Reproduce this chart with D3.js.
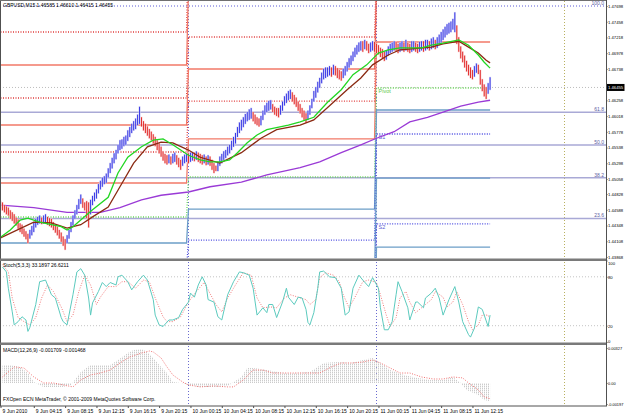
<!DOCTYPE html>
<html>
<head>
<meta charset="utf-8">
<script src="https://cdn.jsdelivr.net/npm/d3@7"></script>
<style>
body { margin: 0; background: #fff; }
svg { display: block; font-family: "Liberation Sans", Arial, sans-serif; }
</style>
</head>
<body>
<script>

/*--------- Données ---------------------------------------*/

const chartTitle = "GBPUSD,M15 1.46585 1.46610 1.46415 1.46455";
const stochTitle = "Stoch(5,3,3) 33.1897 26.6211";
const macdTitle = "MACD(12,26,9) -0.001709 -0.001468";
const copyright = "FXOpen ECN MetaTrader, \u00a9 2001-2009 MetaQuotes Software Corp.";
const lastPrice = 1.46455;

// une barre M15 par valeur, du 9 Jun 00:00 au 11 Jun 14:30
const barHigh = [
  1.4472,1.4470,1.4466,1.4464,1.4462,1.4458,1.4455,1.4452,1.4447,1.4444,
  1.4438,1.4436,1.4430,1.4426,1.4422,1.4428,1.4434,1.4440,1.4445,1.4448,
  1.4450,1.4447,1.4450,1.4452,1.4448,1.4446,1.4445,1.4440,1.4436,1.4433,
  1.4428,1.4424,1.4418,1.4414,1.4420,1.4428,1.4440,1.4450,1.4458,1.4466,
  1.4475,1.4482,1.4476,1.4470,1.4472,1.4470,1.4474,1.4480,1.4485,1.4490,
  1.4498,1.4503,1.4508,1.4510,1.4514,1.4522,1.4530,1.4538,1.4545,1.4550,
  1.4558,1.4565,1.4566,1.4570,1.4572,1.4580,1.4585,1.4590,1.4594,1.4598,
  1.4604,1.4616,1.4600,1.4594,1.4590,1.4586,1.4582,1.4578,1.4574,1.4570,
  1.4565,1.4560,1.4555,1.4548,1.4544,1.4542,1.4543,1.4540,1.4544,1.4546,
  1.4542,1.4538,1.4535,1.4540,1.4543,1.4544,1.4545,1.4546,1.4547,1.4546,
  1.4548,1.4546,1.4544,1.4542,1.4543,1.4540,1.4542,1.4540,1.4535,1.4530,
  1.4526,1.4532,1.4540,1.4544,1.4548,1.4550,1.4555,1.4558,1.4564,1.4570,
  1.4576,1.4585,1.4592,1.4596,1.4600,1.4605,1.4608,1.4612,1.4614,1.4608,
  1.4604,1.4600,1.4598,1.4602,1.4610,1.4618,1.4622,1.4625,1.4626,1.4620,
  1.4616,1.4614,1.4614,1.4618,1.4624,1.4632,1.4636,1.4640,1.4642,1.4638,
  1.4634,1.4630,1.4624,1.4620,1.4614,1.4610,1.4606,1.4610,1.4618,1.4628,
  1.4640,1.4646,1.4654,1.4660,1.4668,1.4674,1.4676,1.4676,1.4678,1.4676,
  1.4680,1.4678,1.4675,1.4672,1.4670,1.4674,1.4678,1.4684,1.4690,1.4694,
  1.4700,1.4706,1.4710,1.4714,1.4716,1.4716,1.4718,1.4716,1.4712,1.4714,
  1.4716,1.4715,1.4712,1.4710,1.4706,1.4704,1.4700,1.4702,1.4708,1.4712,
  1.4714,1.4716,1.4715,1.4712,1.4714,1.4716,1.4714,1.4718,1.4714,1.4712,
  1.4716,1.4716,1.4714,1.4712,1.4715,1.4716,1.4716,1.4718,1.4718,1.4716,
  1.4720,1.4722,1.4718,1.4722,1.4726,1.4730,1.4734,1.4738,1.4742,1.4744,
  1.4746,1.4750,1.4760,1.4740,1.4722,1.4708,1.4700,1.4694,1.4686,1.4680,
  1.4676,1.4672,1.4678,1.4682,1.4680,1.4672,1.4658,1.4650,1.4646,1.4652,1.4661
];
const barLow = [
  1.4460,1.4458,1.4455,1.4452,1.4450,1.4445,1.4442,1.4438,1.4435,1.4430,
  1.4425,1.4422,1.4418,1.4414,1.4408,1.4415,1.4420,1.4425,1.4432,1.4436,
  1.4438,1.4437,1.4438,1.4440,1.4436,1.4434,1.4432,1.4428,1.4424,1.4420,
  1.4415,1.4410,1.4404,1.4398,1.4408,1.4415,1.4425,1.4435,1.4445,1.4452,
  1.4460,1.4468,1.4462,1.4458,1.4446,1.4432,1.4452,1.4466,1.4472,1.4476,
  1.4484,1.4490,1.4494,1.4498,1.4500,1.4508,1.4515,1.4522,1.4530,1.4536,
  1.4545,1.4550,1.4552,1.4556,1.4558,1.4564,1.4570,1.4576,1.4580,1.4582,
  1.4588,1.4590,1.4586,1.4580,1.4576,1.4572,1.4568,1.4565,1.4560,1.4556,
  1.4550,1.4545,1.4540,1.4534,1.4530,1.4528,1.4530,1.4528,1.4530,1.4532,
  1.4528,1.4524,1.4520,1.4526,1.4530,1.4532,1.4530,1.4532,1.4534,1.4533,
  1.4535,1.4532,1.4530,1.4528,1.4530,1.4527,1.4528,1.4526,1.4520,1.4515,
  1.4518,1.4518,1.4526,1.4530,1.4535,1.4538,1.4542,1.4545,1.4550,1.4555,
  1.4560,1.4570,1.4576,1.4580,1.4585,1.4590,1.4594,1.4596,1.4598,1.4594,
  1.4590,1.4588,1.4586,1.4588,1.4596,1.4604,1.4608,1.4610,1.4612,1.4608,
  1.4604,1.4602,1.4600,1.4604,1.4610,1.4618,1.4622,1.4626,1.4628,1.4624,
  1.4620,1.4616,1.4610,1.4606,1.4600,1.4596,1.4592,1.4596,1.4604,1.4614,
  1.4624,1.4630,1.4638,1.4645,1.4652,1.4658,1.4660,1.4662,1.4664,1.4662,
  1.4665,1.4664,1.4660,1.4658,1.4656,1.4660,1.4664,1.4670,1.4676,1.4680,
  1.4686,1.4692,1.4696,1.4700,1.4702,1.4700,1.4704,1.4702,1.4698,1.4700,
  1.4702,1.4700,1.4698,1.4696,1.4692,1.4690,1.4686,1.4688,1.4694,1.4698,
  1.4700,1.4702,1.4700,1.4698,1.4700,1.4702,1.4700,1.4702,1.4700,1.4698,
  1.4700,1.4702,1.4700,1.4698,1.4700,1.4702,1.4700,1.4702,1.4704,1.4702,
  1.4704,1.4706,1.4704,1.4706,1.4710,1.4714,1.4718,1.4722,1.4726,1.4728,
  1.4730,1.4734,1.4730,1.4712,1.4700,1.4690,1.4684,1.4676,1.4670,1.4664,
  1.4660,1.4658,1.4662,1.4668,1.4666,1.4650,1.4640,1.4632,1.4628,1.4636,1.4642
];

// moyennes mobiles (barre, prix)
const maFastBars = [0,5,10,14,20,31,34,37,42,47,55,60,65,72,78,83,88,96,102,107,112,117,121,126,131,136,147,153,160,167,174,180,187,193,198,204,215,220,226,234,239,244,247,250];
const maFast = [1.4417,1.4428,1.4443,1.4446,1.4440,1.4433,1.4428,1.4433,1.4446,1.4459,1.4478,1.4515,1.4539,1.4555,1.4565,1.4567,1.4558,1.4542,1.4535,1.4532,1.4532,1.4535,1.4546,1.4561,1.4573,1.4581,1.4588,1.4593,1.4600,1.4623,1.4642,1.4665,1.4680,1.4698,1.4703,1.4706,1.4706,1.4710,1.4713,1.4718,1.4710,1.4695,1.4684,1.4675];
const maSlowBars = [0,17,26,34,41,47,55,61,68,75,82,88,96,102,112,123,133,141,153,160,170,177,184,190,198,204,220,226,234,239,244,248,250];
const maSlow = [1.4416,1.4440,1.4439,1.4431,1.4436,1.4448,1.4463,1.4494,1.4530,1.4555,1.4562,1.4561,1.4550,1.4539,1.4530,1.4546,1.4568,1.4581,1.4588,1.4596,1.4623,1.4642,1.4660,1.4680,1.4695,1.4703,1.4707,1.4712,1.4716,1.4707,1.4698,1.4687,1.4683];
const maLongBars = [0,17,34,51,61,72,82,96,107,123,136,153,163,174,184,192,201,209,218,226,235,244,250];
const maLong = [1.4466,1.4462,1.4455,1.4455,1.4462,1.4474,1.4481,1.4486,1.4494,1.4501,1.4512,1.4523,1.4532,1.4546,1.4558,1.4568,1.4578,1.4593,1.4600,1.4608,1.4617,1.4623,1.4626];

// pivots journaliers : R3, M5, R2, M4, R1, M3, P, M2, S1, M1, S2, M0, S3
const pivotNames = ["R3","M5","R2","M4","R1","M3","P","M2","S1","M1","S2","M0","S3"];
const pivotJun9 = [1.47301,1.46798,1.46294,1.45882,1.45470,1.44997,1.44478,1.44082,1.43685,1.43288,1.42891,1.42602,1.42296];
const pivotJun10 = [1.48705,1.47973,1.47225,1.46737,1.46248,1.45669,1.45089,1.44600,1.44127,1.43593,1.43061,1.42602,1.42144];
const pivotJun11 = [1.48705,1.48400,1.48247,1.48049,1.47851,1.47149,1.46447,1.46111,1.45745,1.45073,1.44372,1.44020,1.43670];
const dayFirstBar = [0, 96, 192];
const dayLastBar = [95, 191, 250];
const daySeparators = [96, 192, 288];

// retracement de Fibonacci
const fibHigh = 1.47698;
const fibLow = 1.43456;
const fibLevels = [100.0, 61.8, 50.0, 38.2, 23.6];

// stochastique (barre, valeur)
const stochMainBars = [1,3,4,6,7,9,11,13,14,15,18,20,23,26,28,31,32,34,37,39,41,43,45,46,47,50,52,54,56,59,60,62,65,67,70,73,75,78,79,81,83,86,88,91,93,96,97,99,101,103,105,106,109,111,113,116,119,122,124,127,129,131,134,136,137,139,141,144,146,147,150,152,154,156,157,158,160,162,163,165,168,171,174,176,178,180,183,185,188,190,193,194,196,198,200,202,203,205,208,209,212,213,216,217,220,222,224,226,229,232,234,236,239,240,242,244,246,249,250];
const stochMain = [92,86,66,37,21,25,31,27,13,18,46,74,76,58,54,30,25,21,58,86,90,82,54,33,48,62,73,68,73,70,80,82,74,64,74,82,76,52,33,21,19,27,27,30,40,49,60,55,70,80,70,52,49,31,27,58,74,86,85,82,66,33,42,36,46,46,30,49,66,55,46,55,54,40,24,21,36,66,86,87,80,79,66,33,37,66,82,76,68,79,66,42,15,15,25,58,74,62,42,27,49,49,42,54,60,66,54,33,52,68,49,25,9,6,17,43,40,19,33];
const stochSignalBars = [1,4,6,9,12,15,18,21,24,27,31,34,37,40,43,46,49,51,55,59,62,65,69,73,76,79,83,85,88,92,96,100,104,106,110,113,116,120,124,128,131,134,138,141,145,148,152,156,158,161,163,166,170,173,175,178,181,185,188,192,194,197,199,202,204,207,209,212,215,217,220,222,226,228,231,233,236,239,241,244,246,249,250];
const stochSignal = [95,86,54,30,25,21,30,54,70,62,43,25,33,62,82,70,46,55,68,68,74,74,66,76,74,54,31,25,25,31,49,62,73,64,46,37,54,70,85,82,54,42,43,42,54,58,55,52,46,52,79,85,82,74,58,42,55,74,76,73,58,33,19,30,54,62,49,36,42,46,52,62,55,43,49,62,46,25,15,21,33,33,27];

// MACD (barre, valeur)
const macdHistBars = [1,5,10,14,17,22,27,32,36,41,46,51,56,60,65,68,72,75,78,82,85,88,92,96,102,109,116,123,126,129,136,145,150,158,165,172,179,185,190,194,199,206,213,220,226,231,235,238,244,247,250];
const macdHist = [0.00168,0.00168,0.00150,0.00093,0.00009,-0.00037,-0.00037,-0.00037,-0.00019,0.00103,0.00168,0.00168,0.00168,0.00215,0.00280,0.00308,0.00318,0.00290,0.00234,0.00150,0.00093,0.00009,0.00000,-0.00019,-0.00037,-0.00037,-0.00028,0.00056,0.00140,0.00140,0.00120,0.00093,0.00093,0.00103,0.00187,0.00196,0.00187,0.00215,0.00234,0.00187,0.00120,0.00075,0.00047,0.00028,0.00028,0.00056,0.00000,-0.00065,-0.00112,-0.00159,-0.00171];
const macdSignalBars = [1,7,12,17,22,27,32,37,41,46,51,56,61,66,72,76,78,82,85,88,93,96,102,109,116,119,124,129,134,139,145,150,158,163,169,174,180,185,190,194,199,204,209,215,221,226,231,236,239,244,247,250];
const macdSignal = [0.00056,0.00150,0.00140,0.00056,0.00000,0.00000,-0.00019,-0.00037,0.00028,0.00075,0.00093,0.00121,0.00187,0.00243,0.00280,0.00299,0.00290,0.00234,0.00150,0.00075,0.00009,-0.00019,-0.00037,-0.00028,-0.00037,-0.00037,0.00028,0.00121,0.00121,0.00093,0.00093,0.00093,0.00093,0.00093,0.00150,0.00187,0.00187,0.00196,0.00215,0.00187,0.00140,0.00093,0.00093,0.00056,0.00037,0.00037,0.00056,0.00047,0.00000,-0.00065,-0.00131,-0.00147];

// graduations
const priceTicks = ["1.47698","1.47458","1.47218","1.46978","1.46738","1.46498","1.46258","1.46018","1.45778","1.45538","1.45298","1.45058","1.44828","1.44588","1.44348","1.44108","1.43868"];
const stochTicks = [100, 80, 20, 0];
const macdTicks = ["0.00327", "0.00", "-0.00197"];
const timeBars = [0,17,33,49,65,81,97,113,129,145,161,177,193,209,225,241];
const timeLabels = ["9 Jun 2010","9 Jun 04:15","9 Jun 08:15","9 Jun 12:15","9 Jun 16:15","9 Jun 20:15","10 Jun 00:15","10 Jun 04:15","10 Jun 08:15","10 Jun 12:15","10 Jun 16:15","10 Jun 20:15","11 Jun 00:15","11 Jun 04:15","11 Jun 08:15","11 Jun 12:15"];

/*----------------- Affichage ---------------------------- */

var width = 625;
var height = 416;
var plotRight = 606;

var svg = d3.select("body")
    .append("svg")
    .attr("width", width)
    .attr("height", height);

var x = d3.scaleLinear().domain([0, 192]).range([0.5, 376.5]);
var y = d3.scaleLinear().domain([1.43868, 1.47698]).range([257, 6]);
var yStoch = d3.scaleLinear().domain([0, 100]).range([342, 260.5]);
var yMacd = d3.scaleLinear().domain([-0.00197, 0.00327]).range([404, 348]);

var defs = svg.append("defs");
function clip(id, y0, y1) {
    defs.append("clipPath").attr("id", id)
        .append("rect").attr("x", 0).attr("y", y0).attr("width", plotRight).attr("height", y1 - y0);
}
clip("clipMain", 1, 258);
clip("clipStoch", 261, 342.5);
clip("clipMacd", 345, 405.5);

// motif de l'histogramme MACD
defs.append("pattern").attr("id", "hatch")
    .attr("patternUnits", "userSpaceOnUse")
    .attr("width", 2).attr("height", 2)
    .append("rect").attr("width", 1).attr("height", 1.4).attr("fill", "#cbcbcb");

// séparateurs de jours (traversent les trois fenêtres)
svg.append("g").selectAll("line")
    .data(daySeparators)
    .enter().append("line")
    .attr("x1", d => x(d)).attr("x2", d => x(d))
    .attr("y1", 1).attr("y2", 405.5)
    .attr("stroke", (d, i) => i == 2 ? "#b8b060" : "#6a6ad0")
    .attr("stroke-width", 1)
    .attr("stroke-dasharray", "1,2");

/*------ fenêtre principale ------*/
var main = svg.append("g").attr("clip-path", "url(#clipMain)");

// dernier prix
main.append("line")
    .attr("x1", 0).attr("x2", plotRight)
    .attr("y1", y(lastPrice)).attr("y2", y(lastPrice))
    .attr("stroke", "#bdbdbd").attr("stroke-dasharray", "1,2");

// niveaux de Fibonacci
var fibPrice = fibLevels.map(p => fibLow + (fibHigh - fibLow) * p / 100);
main.append("g").selectAll("line")
    .data(fibPrice)
    .enter().append("line")
    .attr("x1", 0).attr("x2", plotRight)
    .attr("y1", d => y(d)).attr("y2", d => y(d))
    .attr("stroke", (d, i) => i == 0 ? "#5a5ad6" : "#a9a9d6")
    .attr("stroke-width", (d, i) => i == 0 ? 1 : 1.5)
    .attr("stroke-dasharray", (d, i) => i == 0 ? "1,2" : null);
main.append("g").selectAll("text")
    .data(fibPrice)
    .enter().append("text")
    .attr("x", plotRight - 2).attr("y", d => y(d) - 1)
    .attr("text-anchor", "end")
    .attr("font-size", 5)
    .attr("fill", "#5c5ca0")
    .text((d, i) => fibLevels[i].toFixed(1));

// pivots
var days = [pivotJun9, pivotJun10, pivotJun11];
function pivotStyle(name) {
    if (name == "P") return { c: "#6ad85a", dash: "1,1.5" };
    if (name[0] == "R") return { c: "#e03c3c", dash: "1,1.5" };
    if (name[0] == "S") return { c: "#4848e0", dash: "1,1.5" };
    if (["M3", "M4", "M5"].indexOf(name) > -1) return { c: "#f27a68", dash: null };
    return { c: "#6c9ec8", dash: null };
}
var pivotLine = d3.line().x(d => x(d[0])).y(d => y(d[1]));
pivotNames.forEach(function (name, k) {
    var pts = [];
    days.forEach(function (lv, d) {
        pts.push([dayFirstBar[d], lv[k]]);
        pts.push([dayLastBar[d], lv[k]]);
    });
    var st = pivotStyle(name);
    main.append("path")
        .attr("d", pivotLine(pts))
        .attr("fill", "none")
        .attr("stroke", st.c)
        .attr("stroke-width", 1.3)
        .attr("stroke-dasharray", st.dash);
});
// étiquettes du dernier jour
[["Pivot", 6, "#5cc84c"], ["S1", 8, "#5a5ad0"], ["S2", 10, "#5a5ad0"]].forEach(function (l) {
    main.append("text")
        .attr("x", x(dayFirstBar[2]) + 2)
        .attr("y", y(pivotJun11[l[1]]) + 5.5)
        .attr("font-size", 5.5)
        .attr("fill", l[2])
        .text(l[0]);
});

// moyenne longue
var maLine = d3.line().x(d => x(d[0])).y(d => y(d[1]));
main.append("path")
    .attr("d", maLine(maLongBars.map((b, i) => [b, maLong[i]])))
    .attr("fill", "none").attr("stroke", "#9a3ad6").attr("stroke-width", 1.3);

// barres
var bars = barHigh.map((h, i) => ({ i: i, h: h, l: barLow[i] }));
function isUp(d) {
    if (d.i == 0) return false;
    return (d.h + d.l) >= (barHigh[d.i - 1] + barLow[d.i - 1]);
}
main.append("g").selectAll("line")
    .data(bars)
    .enter().append("line")
    .attr("x1", d => x(d.i)).attr("x2", d => x(d.i))
    .attr("y1", d => y(d.h) - 0.5).attr("y2", d => y(d.l) + 0.5)
    .attr("stroke", d => isUp(d) ? "#d2d2f6" : "#f8cccc")
    .attr("stroke-width", 2);
main.append("g").selectAll("line")
    .data(bars)
    .enter().append("line")
    .attr("x1", d => x(d.i)).attr("x2", d => x(d.i))
    .attr("y1", d => y(d.h)).attr("y2", d => y(d.l))
    .attr("stroke", d => isUp(d) ? "#3a3ae6" : "#e23030")
    .attr("stroke-width", 1);

// moyennes courtes
main.append("path")
    .attr("d", maLine(maSlowBars.map((b, i) => [b, maSlow[i]])))
    .attr("fill", "none").attr("stroke", "#8a2a12").attr("stroke-width", 1.3);
main.append("path")
    .attr("d", maLine(maFastBars.map((b, i) => [b, maFast[i]])))
    .attr("fill", "none").attr("stroke", "#22d622").attr("stroke-width", 1.3);

svg.append("text")
    .attr("x", 3).attr("y", 7)
    .attr("font-size", 5)
    .attr("fill", "#000")
    .text(chartTitle);

/*------ stochastique ------*/
var stoch = svg.append("g").attr("clip-path", "url(#clipStoch)");
stoch.selectAll("line.lvl")
    .data([80, 20])
    .enter().append("line")
    .attr("x1", 0).attr("x2", plotRight)
    .attr("y1", d => yStoch(d)).attr("y2", d => yStoch(d))
    .attr("stroke", "#c4c4c4").attr("stroke-dasharray", "1,2");
var stLine = d3.line().x(d => x(d[0])).y(d => yStoch(d[1]));
stoch.append("path")
    .attr("d", stLine(stochSignalBars.map((b, i) => [b, stochSignal[i]])))
    .attr("fill", "none").attr("stroke", "#f07a7a").attr("stroke-width", 1)
    .attr("stroke-dasharray", "1,1.5");
stoch.append("path")
    .attr("d", stLine(stochMainBars.map((b, i) => [b, stochMain[i]])))
    .attr("fill", "none").attr("stroke", "#5ccabe").attr("stroke-width", 1);
svg.append("text")
    .attr("x", 3).attr("y", 266.5)
    .attr("font-size", 5).attr("fill", "#000")
    .text(stochTitle);

/*------ MACD ------*/
var macd = svg.append("g").attr("clip-path", "url(#clipMacd)");
var histArea = d3.area()
    .x(d => x(d[0]))
    .y0(yMacd(0))
    .y1(d => yMacd(d[1]));
macd.append("path")
    .attr("d", histArea(macdHistBars.map((b, i) => [b, macdHist[i]])))
    .attr("fill", "url(#hatch)");
macd.append("path")
    .attr("d", d3.line().x(d => x(d[0])).y(d => yMacd(d[1]))(macdSignalBars.map((b, i) => [b, macdSignal[i]])))
    .attr("fill", "none").attr("stroke", "#f07070").attr("stroke-width", 1)
    .attr("stroke-dasharray", "1,1.5");
svg.append("text")
    .attr("x", 3).attr("y", 351.5)
    .attr("font-size", 5).attr("fill", "#000")
    .text(macdTitle);
svg.append("text")
    .attr("x", 3).attr("y", 400.5)
    .attr("font-size", 5).attr("fill", "#000")
    .text(copyright);

/*------ cadres et séparateurs ------*/
svg.append("line").attr("x1", 0.5).attr("x2", 0.5).attr("y1", 0).attr("y2", 406)
    .attr("stroke", "#505050");
svg.append("line").attr("x1", 0).attr("x2", plotRight).attr("y1", 0.5).attr("y2", 0.5)
    .attr("stroke", "#707070");
[258.5, 342.5].forEach(function (yy) {
    svg.append("rect").attr("x", 0).attr("y", yy).attr("width", plotRight + 1).attr("height", 2.5)
        .attr("fill", "#7a7a7a");
});
svg.append("line").attr("x1", 0).attr("x2", plotRight + 1).attr("y1", 406).attr("y2", 406)
    .attr("stroke", "#505050");
svg.append("line").attr("x1", plotRight + 0.5).attr("x2", plotRight + 0.5).attr("y1", 0).attr("y2", 406)
    .attr("stroke", "#505050");

/*------ axes ------*/
// les étiquettes de droite tiennent dans les 17 px restants, comme dans MetaTrader
function styleAxis(g, size) {
    g.select(".domain").remove();
    g.selectAll("text").attr("font-size", size || 5).attr("fill", "#000")
        .attr("font-family", "Liberation Sans, Arial, sans-serif");
    g.selectAll("line").attr("stroke", "#505050");
}
svg.append("g")
    .attr("transform", "translate(" + (plotRight + 0.5) + ",0)")
    .call(d3.axisRight(y).tickValues(priceTicks.map(Number)).tickFormat((d, i) => priceTicks[i]).tickSize(1).tickPadding(0.5))
    .call(styleAxis, 4.2);

// étiquette du dernier prix
var lp = svg.append("g").attr("transform", "translate(" + (plotRight + 1) + "," + y(lastPrice) + ")");
lp.append("rect").attr("x", 0).attr("y", -3.5).attr("width", 17.5).attr("height", 7).attr("fill", "#000");
lp.append("text").attr("x", 1).attr("y", 1.6).attr("font-size", 4.2).attr("fill", "#fff")
    .text(lastPrice.toFixed(5));

svg.append("g")
    .attr("transform", "translate(" + (plotRight + 0.5) + ",0)")
    .call(d3.axisRight(yStoch).tickValues(stochTicks).tickSize(1).tickPadding(0.5))
    .call(styleAxis, 4.2)
    .selectAll(".tick text")
    .attr("dy", d => d == 100 ? "0.9em" : (d == 0 ? "0.1em" : "0.32em"));

svg.append("g")
    .attr("transform", "translate(" + (plotRight + 0.5) + ",0)")
    .call(d3.axisRight(yMacd).tickValues(macdTicks.map(Number)).tickFormat((d, i) => macdTicks[i]).tickSize(1).tickPadding(0.5))
    .call(styleAxis, 3.9);

svg.append("g")
    .attr("transform", "translate(0,406)")
    .call(d3.axisBottom(x).tickValues(timeBars).tickFormat((d, i) => timeLabels[i]).tickSize(2).tickPadding(1))
    .call(styleAxis)
    .selectAll(".tick text")
    .attr("text-anchor", "start")
    .attr("dx", "0.3em");

</script>
</body>
</html>
